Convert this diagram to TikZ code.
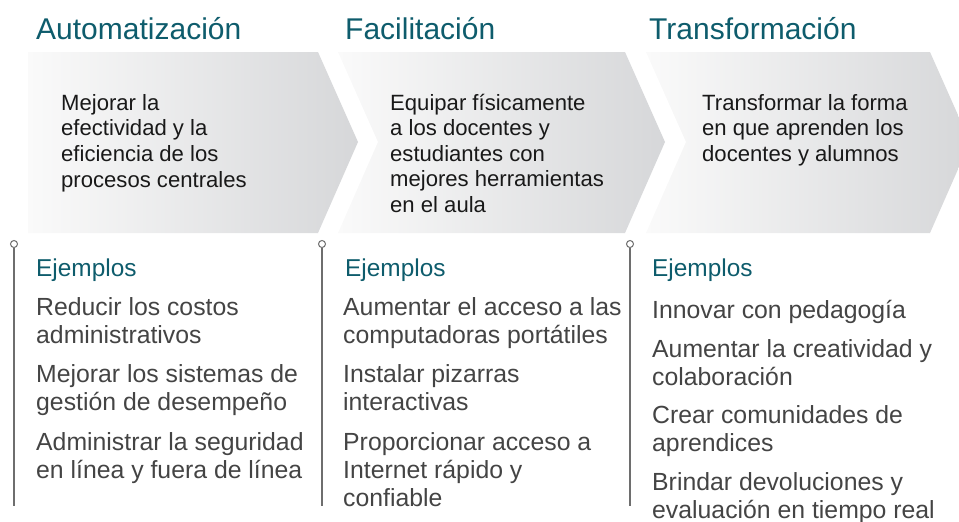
\documentclass[tikz,border=0pt]{standalone}
\usepackage{fontspec}
\setmainfont{Liberation Sans}
\definecolor{tealhead}{RGB}{14,92,108}
\definecolor{itemgray}{RGB}{68,68,68}
\definecolor{chevtext}{RGB}{25,25,25}
\definecolor{chevL}{RGB}{250,250,250}
\definecolor{chevR}{RGB}{214,215,217}
\definecolor{linegray}{RGB}{110,110,110}
\begin{document}
\begin{tikzpicture}[x=1pt,y=-1pt,
  titletext/.style={anchor=base west, inner sep=0, font=\fontsize{30}{34}\selectfont, text=tealhead},
  chevline/.style={anchor=base west, inner sep=0, font=\fontsize{22.1}{26}\selectfont, text=chevtext},
  exhead/.style={anchor=base west, inner sep=0, font=\fontsize{24.4}{28}\selectfont, text=tealhead},
  itemline/.style={anchor=base west, inner sep=0, font=\fontsize{24.8}{28}\selectfont, text=itemgray},
  pin/.style={circle, draw=linegray, fill=white, inner sep=0, minimum size=7pt, line width=1pt},
  vline/.style={draw=linegray, line width=1.8pt},
  chevshade/.style={left color=chevL, right color=chevR}]
\useasboundingbox (0,0) rectangle (959,522);
\clip (0,0) rectangle (959,522);
% chevrons
\shade[chevshade] (28,52) -- (318,52) -- (358,142) -- (318,233) -- (28,233) -- cycle;
\shade[chevshade] (338,52) -- (625,52) -- (665,142) -- (625,233) -- (338,233) -- (378,142) -- cycle;
\shade[chevshade] (646,52) -- (930,52) -- (970,142) -- (930,233) -- (646,233) -- (686,142) -- cycle;
% titles
\node[titletext] (t1) at (36,39) {Automatización};
\node[titletext] (t2) at (345,39) {Facilitación};
\node[titletext] (t3) at (649,39) {Transformación};
% chevron texts
\node[chevline] (a1) at (61,110) {Mejorar la};
\node[chevline] (a2) at (61,135.7) {efectividad y la};
\node[chevline] (a3) at (61,161.4) {eficiencia de los};
\node[chevline] (a4) at (61,187) {procesos centrales};
\node[chevline] (b1) at (390,110) {Equipar físicamente};
\node[chevline] (b2) at (390,135.5) {a los docentes y};
\node[chevline] (b3) at (390,161) {estudiantes con};
\node[chevline] (b4) at (390,186.5) {mejores herramientas};
\node[chevline] (b5) at (390,212) {en el aula};
\node[chevline] (c1) at (702,110) {Transformar la forma};
\node[chevline] (c2) at (702,135.7) {en que aprenden los};
\node[chevline] (c3) at (702,161.4) {docentes y alumnos};
% pins and vertical lines
\node[pin] (p1) at (14,244) {};
\node[pin] (p2) at (322,244) {};
\node[pin] (p3) at (630,244) {};
\coordinate (e1) at (14,506);
\coordinate (e2) at (322,506);
\coordinate (e3) at (630,506);
\draw[vline] (p1.south) -- (e1);
\draw[vline] (p2.south) -- (e2);
\draw[vline] (p3.south) -- (e3);
% Ejemplos
\node[exhead] (x1) at (36,276) {Ejemplos};
\node[exhead] (x2) at (345,276) {Ejemplos};
\node[exhead] (x3) at (652,276) {Ejemplos};
% column 1
\node[itemline] (i11) at (36,315) {Reducir los costos};
\node[itemline] (i12) at (36,343) {administrativos};
\node[itemline] (i13) at (36,382) {Mejorar los sistemas de};
\node[itemline] (i14) at (36,410) {gestión de desempeño};
\node[itemline] (i15) at (36,450) {Administrar la seguridad};
\node[itemline] (i16) at (36,478) {en línea y fuera de línea};
% column 2
\node[itemline] (i21) at (343,315) {Aumentar el acceso a las};
\node[itemline] (i22) at (343,343) {computadoras portátiles};
\node[itemline] (i23) at (343,382) {Instalar pizarras};
\node[itemline] (i24) at (343,410) {interactivas};
\node[itemline] (i25) at (343,450) {Proporcionar acceso a};
\node[itemline] (i26) at (343,478) {Internet rápido y};
\node[itemline] (i27) at (343,506) {confiable};
% column 3
\node[itemline] (i31) at (652,318) {Innovar con pedagogía};
\node[itemline] (i32) at (652,357) {Aumentar la creatividad y};
\node[itemline] (i33) at (652,385) {colaboración};
\node[itemline] (i34) at (652,423) {Crear comunidades de};
\node[itemline] (i35) at (652,451) {aprendices};
\node[itemline] (i36) at (652,490) {Brindar devoluciones y};
\node[itemline] (i37) at (652,518) {evaluación en tiempo real};
\end{tikzpicture}
\end{document}
